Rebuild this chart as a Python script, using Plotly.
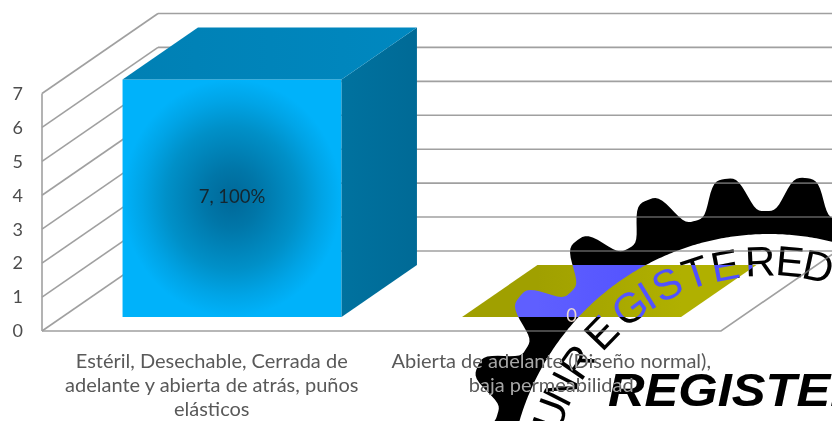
import numpy as np
import plotly.graph_objects as go

WIDTH, HEIGHT = 832, 421

# chart data
categories = [
    ["Estéril, Desechable, Cerrada de", "adelante y abierta de atrás, puños", "elásticos"],
    ["Abierta de adelante (Diseño normal),", "baja permeabilidad"],
]
counts = [7, 0]
bar_labels = ["7, 100%", "0"]
y_ticks = [0, 1, 2, 3, 4, 5, 6, 7]

# scale of the front plane of the 3-D box
LEFT_PX, BASE_PX = 42, 331
CAT_PX, UNIT_PX = 339.5, 33.93
BOX_DX = 116 / CAT_PX      # horizontal shift of the back wall, in category units
BOX_DY = 80 / UNIT_PX      # vertical shift of the back wall, in value units
BAR_WIDTH = 219 / CAT_PX
BAR_NEAR, BAR_FAR = 0.175, 0.825
LABEL_LINES_Y = [-0.943, -1.65, -2.36]

x_range = [-0.5 - LEFT_PX / CAT_PX, -0.5 + (WIDTH - LEFT_PX) / CAT_PX]
y_range = [-(HEIGHT - BASE_PX) / UNIT_PX, BASE_PX / UNIT_PX]


def project(x, y, depth):
    return x + depth * BOX_DX, y + depth * BOX_DY


def polyline(points):
    xs, ys = zip(*[project(*p) for p in points])
    return list(xs), list(ys)


fig = go.Figure()

# box walls: left wall diagonals, back wall rules, floor edges
GRID = "#a0a0a0"
wall_x, wall_y = [], []
for v in y_ticks:
    for pts in ([(-0.5, v, 0), (-0.5, v, 1)], [(-0.5, v, 1), (1.5, v, 1)]):
        xs, ys = polyline(pts)
        wall_x += xs + [None]
        wall_y += ys + [None]
for pts in ([(-0.5, 0, 0), (1.5, 0, 0), (1.5, 0, 1)], [(-0.5, 0, 0), (-0.5, 7, 0)]):
    xs, ys = polyline(pts)
    wall_x += xs + [None]
    wall_y += ys + [None]
fig.add_trace(go.Scatter(x=wall_x, y=wall_y, mode="lines", line=dict(color=GRID, width=1.6),
                         hoverinfo="skip", showlegend=False))


def face(points, gradient):
    xs, ys = polyline(points + points[:1])
    fig.add_trace(go.Scatter(x=xs, y=ys, mode="lines", fill="toself", line=dict(width=0),
                             fillgradient=gradient, hoverinfo="skip", showlegend=False))


def linear(c0, c1, start, stop, orientation="horizontal"):
    return dict(type=orientation, colorscale=[[0, c0], [1, c1]], start=start, stop=stop)


# bars drawn as three faces, the first one blue and the second olive
for i, value in enumerate(counts):
    x0, x1 = i - BAR_WIDTH / 2, i + BAR_WIDTH / 2
    a, b = BAR_NEAR, BAR_FAR
    top = [(x0, value, a), (x1, value, a), (x1, value, b), (x0, value, b)]
    if value > 0:
        front = [(x0, 0, a), (x1, 0, a), (x1, value, a), (x0, value, a)]
        side = [(x1, 0, a), (x1, 0, b), (x1, value, b), (x1, value, a)]
        face(front, dict(type="radial", colorscale=[[0, "#006898"], [0.25, "#0076a8"], [0.6, "#0090c8"],
                                                    [0.82, "#00a4e6"], [1, "#00b2fa"]]))
        face(side, linear("#00729f", "#006a96", project(x1, 0, a)[0], project(x1, 0, b)[0]))
        face(top, linear("#0080b4", "#0088c0", project(x0, 0, a)[0], project(x1, 0, b)[0]))
    else:
        face(top, linear("#a0a000", "#b0b000", project(x0, 0, b)[0], project(x1, 0, a)[0]))

# value labels at the middle of each bar's front face
label_pts = [project(i, v / 2, BAR_NEAR) for i, v in enumerate(counts)]
fig.add_trace(go.Scatter(x=[p[0] for p in label_pts], y=[p[1] for p in label_pts],
                         mode="text", text=bar_labels, textposition="middle center",
                         textfont=dict(family="Lato", size=18.5, color="#14262f"),
                         hoverinfo="skip", showlegend=False))

# category labels, one text node per line for the wide line spacing
cat_x, cat_y, cat_text = [], [], []
for i, lines in enumerate(categories):
    for line, y in zip(lines, LABEL_LINES_Y):
        cat_x.append(i)
        cat_y.append(y)
        cat_text.append(line)
fig.add_trace(go.Scatter(x=cat_x, y=cat_y, mode="text", text=cat_text,
                         textposition="middle center",
                         textfont=dict(family="Lato", size=20, color="#595959"),
                         hoverinfo="skip", showlegend=False))


# stamp: a toothed ring centred below the lower right corner
CX, CY, R_IN, R_PEAK, R_VALLEY = 769, 494, 260, 318, 283
TOOTH_DEG, TOOTH_PHASE = 14.6, 6.7


def to_paper(px, py):
    return px / WIDTH, 1 - py / HEIGHT


angles = np.radians(np.arange(-180, 180, 0.5))
phi = (np.degrees(angles) - TOOTH_PHASE) / TOOTH_DEG * 2 * np.pi
swing = 0.5 + 0.5 * np.cos(phi)
swing = swing * swing * (3 - 2 * swing)
radius = R_VALLEY + (R_PEAK - R_VALLEY) * swing


def ring_path(radii):
    pts = [to_paper(CX + r * np.sin(t), CY - r * np.cos(t)) for r, t in zip(radii, angles)]
    return "M" + "L".join(f"{x:.5f},{y:.5f}" for x, y in pts) + "Z"


gear = ring_path(radius) + ring_path(np.full_like(angles, R_IN))

# opaque page-coloured sheet under everything, so the stamp has a backdrop to invert
shapes = [
    dict(type="rect", xref="paper", yref="paper", x0=0, x1=1, y0=0, y1=1,
         fillcolor="white", line_width=0, layer="below"),
    dict(type="path", xref="paper", yref="paper", path=gear, fillcolor="white",
         fillrule="evenodd", line_width=0, layer="above"),
]

# lettering that follows the ring, given as (letter, clockwise angle from the top)
ARC_R = 233
arc_letters = [("U", -70), ("N", -63), ("R", -55.3), ("E", -46), ("G", -36.7), ("I", -31.5), ("S", -26),
               ("T", -18.3), ("E", -10.8), ("R", -2.2), ("E", 5.2), ("D", 12.2)]
annotations = []
for ch, deg in arc_letters:
    t = np.radians(deg)
    px, py = to_paper(CX + ARC_R * np.sin(t), CY - ARC_R * np.cos(t))
    annotations.append(dict(x=px, y=py, xref="paper", yref="paper", text=ch, showarrow=False,
                            textangle=deg, xanchor="center", yanchor="middle",
                            font=dict(family="Liberation Sans", size=42, color="white")))
px, py = to_paper(772, 390)
annotations.append(dict(x=px, y=py, xref="paper", yref="paper", text="REGISTERED",
                        showarrow=False, xanchor="center", yanchor="middle",
                        font=dict(family="Liberation Sans", size=46, color="white",
                                  weight="bold", style="italic")))

fig.update_layout(
    width=WIDTH, height=HEIGHT, margin=dict(l=0, r=0, t=0, b=0),
    paper_bgcolor="white", plot_bgcolor="rgba(0,0,0,0)",
    shapes=shapes, annotations=annotations, showlegend=False,
    xaxis=dict(range=x_range, visible=False, fixedrange=True),
    yaxis=dict(range=y_range, tickmode="array", tickvals=y_ticks, ticktext=[str(v) for v in y_ticks],
               showgrid=False, zeroline=False, showline=False, anchor="free", position=LEFT_PX / WIDTH,
               ticks="", ticklabelstandoff=19, fixedrange=True,
               tickfont=dict(family="Lato", size=18, color="#4d4d4d")),
)

# the stamp inverts whatever lies below it; its wide wordmark is stretched to length
BLEND = """
var g = document.querySelector('.layer-above .shapelayer path');
if (g) { g.style.mixBlendMode = 'difference'; }
var s = document.querySelectorAll('.main-svg');
if (s.length > 1) {
  s[1].style.mixBlendMode = 'difference';
  s[1].querySelectorAll('.annotation-text').forEach(function (t) {
    if (t.textContent === 'REGISTERED') {
      t.setAttribute('textLength', '329');
      t.setAttribute('lengthAdjust', 'spacingAndGlyphs');
    }
  });
}
"""
fig.write_html("out.html", post_script=BLEND, config=dict(displayModeBar=False))
